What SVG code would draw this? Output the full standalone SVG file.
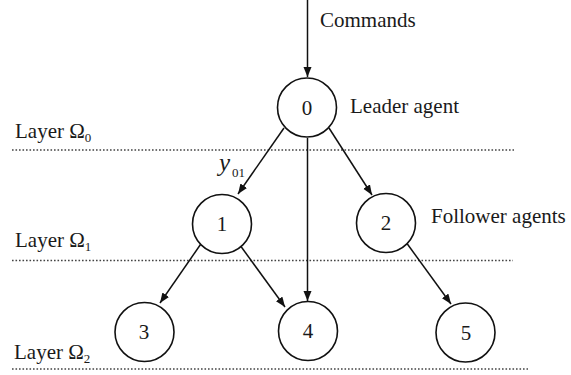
<svg xmlns="http://www.w3.org/2000/svg" width="571" height="375" viewBox="0 0 571 375" font-family="'Liberation Serif', 'DejaVu Serif', serif">
  <defs>
    <marker id="arrow" markerUnits="userSpaceOnUse" markerWidth="11" markerHeight="9" refX="10" refY="4" orient="auto">
      <path d="M0,0 L10,4 L0,8 Z" fill="#111"/>
    </marker>
  </defs>
  <style>
    text { font-family: 'Liberation Serif', 'DejaVu Serif', serif; fill: #1a1a1a; }
    .lbl { font-size: 21px; }
    .num { font-size: 21px; text-anchor: middle; }
    .sub { font-size: 13px; }
    .node circle { fill: #fff; stroke: #111; stroke-width: 1.6; }
    .edge { stroke: #111; stroke-width: 1.5; fill: none; marker-end: url(#arrow); }
    .layer { stroke: #444; stroke-width: 1.3; stroke-dasharray: 1.6 1.9; fill: none; }
  </style>

  <rect width="571" height="375" fill="#fff"/>

  <!-- layer separators -->
  <g id="layers">
    <line class="layer" x1="12" y1="150" x2="514" y2="150"/>
    <line class="layer" x1="12" y1="260.5" x2="513" y2="260.5"/>
    <line class="layer" x1="12" y1="369" x2="528" y2="369"/>
    <text class="lbl" x="15" y="138">Layer Ω<tspan class="sub" dy="4">0</tspan></text>
    <text class="lbl" x="15" y="247">Layer Ω<tspan class="sub" dy="4">1</tspan></text>
    <text class="lbl" x="14" y="359">Layer Ω<tspan class="sub" dy="4">2</tspan></text>
  </g>

  <!-- connectors -->
  <g id="connectors">
    <line class="edge" x1="307.5" y1="0" x2="307.5" y2="77"/>
    <line class="edge" x1="284" y1="128" x2="238" y2="194"/>
    <line class="edge" x1="329" y1="128" x2="372" y2="195"/>
    <line class="edge" x1="307.5" y1="138" x2="307.5" y2="301"/>
    <line class="edge" x1="200.5" y1="244.5" x2="160" y2="303"/>
    <line class="edge" x1="241" y1="246.5" x2="285" y2="307"/>
    <line class="edge" x1="407" y1="243.5" x2="451" y2="304"/>
    <text x="219" y="171" font-size="25" font-style="italic">y</text>
    <text class="sub" x="232" y="177">01</text>
  </g>

  <!-- agents -->
  <g id="node0" class="node">
    <circle cx="307" cy="107.5" r="29.5"/>
    <text class="num" x="307" y="114.5">0</text>
  </g>
  <g id="node1" class="node">
    <circle cx="222" cy="224" r="29.5"/>
    <text class="num" x="222" y="231">1</text>
  </g>
  <g id="node2" class="node">
    <circle cx="386" cy="223" r="29.5"/>
    <text class="num" x="386" y="230">2</text>
  </g>
  <g id="node3" class="node">
    <circle cx="144.5" cy="332" r="29.5"/>
    <text class="num" x="144" y="339">3</text>
  </g>
  <g id="node4" class="node">
    <circle cx="308" cy="331" r="29.5"/>
    <text class="num" x="308" y="338">4</text>
  </g>
  <g id="node5" class="node">
    <circle cx="465.5" cy="332.5" r="29.5"/>
    <text class="num" x="466" y="339.5">5</text>
  </g>

  <!-- annotations -->
  <g id="annotations">
    <text class="lbl" x="320" y="27">Commands</text>
    <text class="lbl" x="350" y="113">Leader agent</text>
    <text class="lbl" x="431" y="223">Follower agents</text>
  </g>
</svg>
